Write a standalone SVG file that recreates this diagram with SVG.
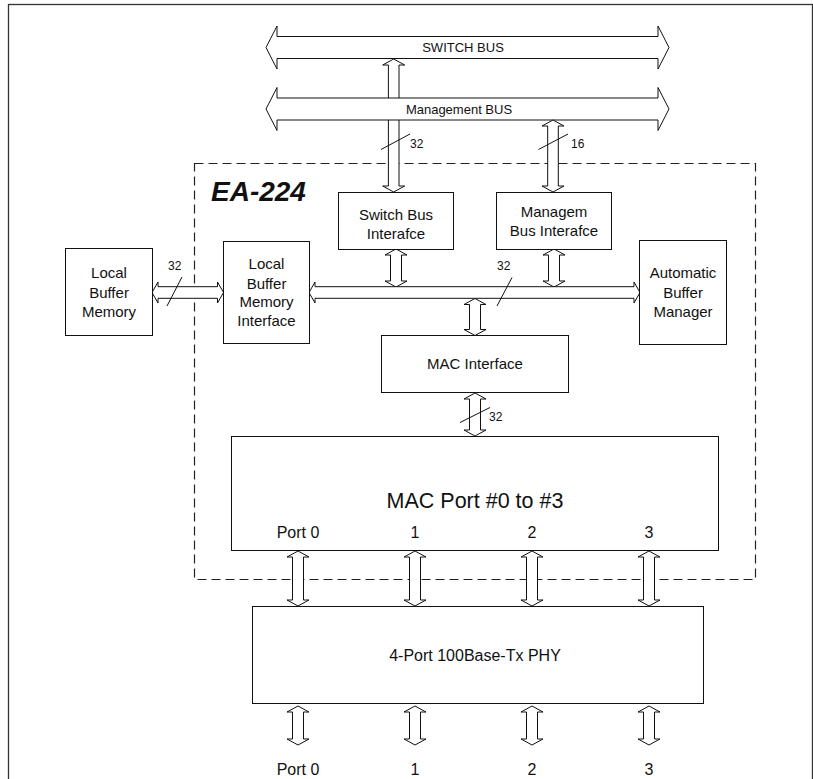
<svg xmlns="http://www.w3.org/2000/svg" width="813" height="779" viewBox="0 0 813 779">
<style>
text{font-family:"Liberation Sans",Arial,sans-serif;fill:#111}
.box{fill:#fff;stroke:#111;stroke-width:1}
.arr{fill:#fff;stroke:#111;stroke-width:1;stroke-linejoin:miter}
.lbl{font-size:15px;text-anchor:middle}
.sm{font-size:12px}
.slash{stroke:#111;stroke-width:1}
</style>
<rect x="8.5" y="4.5" width="804" height="820" fill="#fff" stroke="#333" stroke-width="1.3"/>
<rect id="ea224-boundary" x="194.5" y="163.5" width="561" height="416" fill="none" stroke="#222" stroke-width="1.2" stroke-dasharray="9 5"/>
<text x="211" y="201" font-size="28" font-weight="bold" font-style="italic">EA-224</text>

<g id="connectors">
  <polygon class="arr" points="393.7,59 404.7,65 399,65 399,186 404.7,186 393.7,192 382.7,186 388.4,186 388.4,65 382.7,65"/>
  <g id="switch-bus">
    <polygon class="arr" points="266,47.5 277,26 277,36.5 658,36.5 658,26 669,47.5 658,69 658,58.5 277,58.5 277,69"/>
    <text x="463" y="52" font-size="13" text-anchor="middle">SWITCH BUS</text>
  </g>
  <g id="management-bus">
    <polygon class="arr" points="266,109 277,87.5 277,98 658,98 658,87.5 669,109 658,130.5 658,120 277,120 277,130.5"/>
    <text x="459" y="113.5" font-size="13" text-anchor="middle">Management BUS</text>
  </g>
  <line class="slash" x1="381" y1="149.5" x2="410" y2="134"/>
  <text class="sm" x="410" y="148">32</text>
  <polygon class="arr" points="553,120 564,126 558.3,126 558.3,186 564,186 553,192 542,186 547.7,186 547.7,126 542,126"/>
  <line class="slash" x1="538.5" y1="149.5" x2="568" y2="134"/>
  <text class="sm" x="571" y="148">16</text>
  <polygon class="arr" points="396,249 407,255 401.5,255 401.5,281 407,281 396,287 385,281 390.5,281 390.5,255 385,255"/>
  <polygon class="arr" points="554,249 565,255 559.5,255 559.5,281 565,281 554,287 543,281 548.5,281 548.5,255 543,255"/>
  <polygon class="arr" points="309,292.5 315,282 315,286.7 634,286.7 634,282 640,292.5 634,303 634,298.3 315,298.3 315,303"/>
  <line class="slash" x1="497" y1="306" x2="512" y2="277.5"/>
  <text class="sm" x="497" y="270">32</text>
  <polygon class="arr" points="152,292.5 158,282 158,286.7 217.5,286.7 217.5,282 223.5,292.5 217.5,303 217.5,298.3 158,298.3 158,303"/>
  <line class="slash" x1="167" y1="306" x2="182" y2="277"/>
  <text class="sm" x="168" y="270">32</text>
  <polygon class="arr" points="475,298.5 486,304.5 480.5,304.5 480.5,329.5 486,329.5 475,335.5 464,329.5 469.5,329.5 469.5,304.5 464,304.5"/>
  <polygon class="arr" points="475,393 486,399 480.5,399 480.5,430 486,430 475,436 464,430 469.5,430 469.5,399 464,399"/>
  <line class="slash" x1="460" y1="422.5" x2="490" y2="407.5"/>
  <text class="sm" x="489" y="421">32</text>
  <polygon class="arr" points="298,551 309,557 303.5,557 303.5,600 309,600 298,606 287,600 292.5,600 292.5,557 287,557"/>
  <polygon class="arr" points="415,551 426,557 420.5,557 420.5,600 426,600 415,606 404,600 409.5,600 409.5,557 404,557"/>
  <polygon class="arr" points="532,551 543,557 537.5,557 537.5,600 543,600 532,606 521,600 526.5,600 526.5,557 521,557"/>
  <polygon class="arr" points="649,551 660,557 654.5,557 654.5,600 660,600 649,606 638,600 643.5,600 643.5,557 638,557"/>
  <polygon class="arr" points="298,706 309,712 303.5,712 303.5,739 309,739 298,745 287,739 292.5,739 292.5,712 287,712"/>
  <polygon class="arr" points="415,706 426,712 420.5,712 420.5,739 426,739 415,745 404,739 409.5,739 409.5,712 404,712"/>
  <polygon class="arr" points="532,706 543,712 537.5,712 537.5,739 543,739 532,745 521,739 526.5,739 526.5,712 521,712"/>
  <polygon class="arr" points="649,706 660,712 654.5,712 654.5,739 660,739 649,745 638,739 643.5,739 643.5,712 638,712"/>
</g>

<g id="local-buffer-memory">
  <rect class="box" x="65.5" y="248.5" width="87" height="87"/>
  <text class="lbl" x="109" y="278">Local</text>
  <text class="lbl" x="109" y="297.5">Buffer</text>
  <text class="lbl" x="109" y="317">Memory</text>
</g>
<g id="lbm-interface">
  <rect class="box" x="223.5" y="241.5" width="86" height="102"/>
  <text class="lbl" x="266.5" y="269">Local</text>
  <text class="lbl" x="266.5" y="288.5">Buffer</text>
  <text class="lbl" x="266.5" y="307">Memory</text>
  <text class="lbl" x="266.5" y="326">Interface</text>
</g>
<g id="switch-bus-interface">
  <rect class="box" x="338.5" y="192.5" width="115" height="57"/>
  <text class="lbl" x="396" y="220">Switch Bus</text>
  <text class="lbl" x="396" y="239">Interafce</text>
</g>
<g id="managem-bus-interface">
  <rect class="box" x="496.5" y="192.5" width="115" height="57"/>
  <text class="lbl" x="554" y="217">Managem</text>
  <text class="lbl" x="554" y="236">Bus Interafce</text>
</g>
<g id="automatic-buffer-manager">
  <rect class="box" x="639.5" y="240.5" width="87" height="104"/>
  <text class="lbl" x="683" y="278">Automatic</text>
  <text class="lbl" x="683" y="297.5">Buffer</text>
  <text class="lbl" x="683" y="317">Manager</text>
</g>
<g id="mac-interface">
  <rect class="box" x="381.5" y="335.5" width="187" height="57"/>
  <text class="lbl" x="475" y="369">MAC Interface</text>
</g>
<g id="mac-port">
  <rect class="box" x="231.5" y="436.5" width="487" height="114"/>
  <text x="475" y="508" font-size="21.5" text-anchor="middle">MAC Port #0 to #3</text>
  <text x="298" y="538" font-size="16" text-anchor="middle">Port 0</text>
  <text x="415" y="538" font-size="16" text-anchor="middle">1</text>
  <text x="532" y="538" font-size="16" text-anchor="middle">2</text>
  <text x="649" y="538" font-size="16" text-anchor="middle">3</text>
</g>
<g id="phy">
  <rect class="box" x="252.5" y="606.5" width="451" height="97"/>
  <text x="475" y="661" font-size="16" text-anchor="middle">4-Port 100Base-Tx PHY</text>
</g>
<g id="port-labels">
  <text x="298" y="775" font-size="16" text-anchor="middle">Port 0</text>
  <text x="415" y="775" font-size="16" text-anchor="middle">1</text>
  <text x="532" y="775" font-size="16" text-anchor="middle">2</text>
  <text x="649" y="775" font-size="16" text-anchor="middle">3</text>
</g>
</svg>
